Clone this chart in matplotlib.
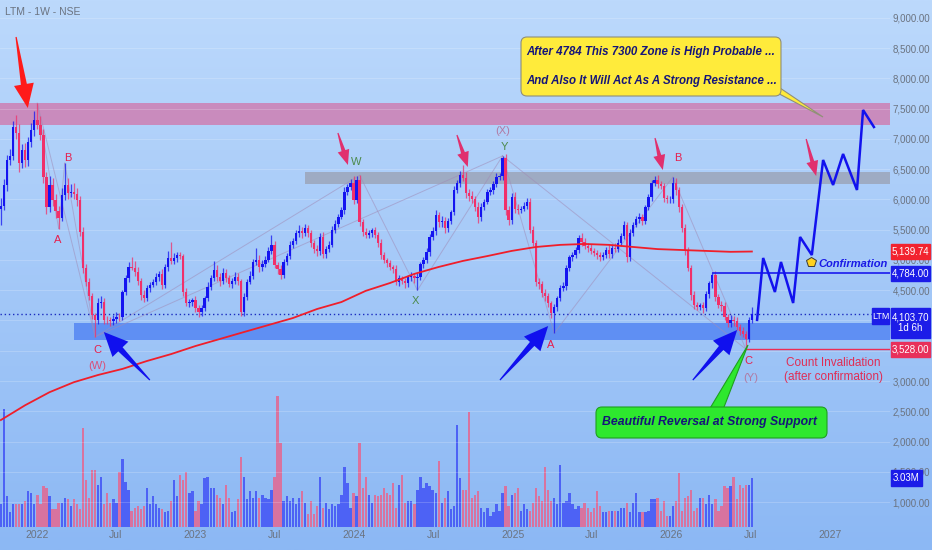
import numpy as np
import pandas as pd
import matplotlib
matplotlib.use("Agg")
import matplotlib.pyplot as plt
import matplotlib.dates as mdates
from matplotlib.colors import LinearSegmentedColormap
from matplotlib.patches import Rectangle, FancyBboxPatch, Polygon
from matplotlib.transforms import IdentityTransform

plt.rcParams['font.family'] = ['Liberation Sans', 'DejaVu Sans']

# ---- weekly LTM candles ----
first_date = '2021-10-10'
first_open = 5850
closes = [
    5900, 6240, 6650, 6720, 7200, 7100, 6600, 6820, 6650, 6950,
    7150, 7310, 7230, 7070, 6370, 5880, 6240, 5990, 5810, 5700,
    6070, 6240, 6100, 6130, 6090, 5990, 5460, 4870, 4640, 4400,
    4090, 4010, 4290, 4300, 4010, 4000, 3990, 4030, 4060, 4050,
    4470, 4700, 4880, 4870, 4800, 4650, 4420, 4370, 4530, 4590,
    4640, 4720, 4770, 4590, 4880, 5030, 4980, 5030, 5080, 5060,
    4470, 4290, 4300, 4340, 4200, 4140, 4200, 4370, 4560, 4700,
    4830, 4720, 4650, 4790, 4700, 4600, 4650, 4720, 4650, 4140,
    4390, 4640, 4740, 4960, 5000, 4880, 4940, 5000, 5150, 5250,
    4920, 4850, 4760, 4960, 5060, 5250, 5320, 5440, 5480, 5440,
    5530, 5440, 5280, 5180, 5150, 5380, 5100, 5180, 5250, 5500,
    5600, 5710, 5820, 6120, 6200, 6280, 5990, 6330, 5630, 5470,
    5420, 5440, 5490, 5420, 5280, 5080, 5000, 4950, 4880, 4850,
    4640, 4700, 4660, 4620, 4720, 4740, 4700, 4720, 4930, 5000,
    5130, 5380, 5480, 5740, 5620, 5650, 5530, 5650, 5790, 6160,
    6270, 6400, 6350, 6100, 6050, 6000, 5880, 5710, 5880, 5960,
    6120, 6150, 6260, 6370, 6390, 6680, 5830, 5660, 6040, 5850,
    5820, 5850, 5900, 5960, 5500, 5280, 4640, 4600, 4450, 4400,
    4290, 4120, 4220, 4370, 4530, 4570, 4870, 5050, 5080, 5170,
    5360, 5300, 5230, 5200, 5150, 5120, 5080, 5050, 5090, 5170,
    5100, 5200, 5180, 5280, 5400, 5580, 5050, 5450, 5580, 5670,
    5710, 5650, 5870, 6040, 6270, 6320, 6250, 6220, 6030, 6000,
    6000, 6270, 6150, 5880, 5530, 5160, 4870, 4420, 4260, 4230,
    4250, 4200, 4440, 4620, 4750, 4390, 4260, 4240, 4060, 3960,
    4000, 3990, 3900, 3830, 3780, 3700, 4010, 4104]
wick_up = [
    120, 100, 80, 120, 90, 200, 150, 100, 120, 80,
    120, 150, 280, 150, 100, 90, 150, 120, 100, 80,
    120, 360, 120, 130, 150, 100, 60, 80, 70, 60,
    50, 40, 80, 100, 70, 60, 50, 60, 80, 60,
    40, 60, 80, 170, 120, 90, 60, 80, 60, 50,
    40, 60, 50, 80, 60, 120, 270, 80, 60, 50,
    40, 60, 50, 40, 60, 50, 60, 40, 80, 60,
    150, 90, 60, 80, 60, 50, 60, 80, 60, 40,
    60, 50, 80, 60, 200, 80, 60, 70, 60, 160,
    60, 50, 60, 50, 60, 60, 50, 60, 100, 70,
    60, 50, 60, 50, 70, 60, 80, 50, 60, 60,
    60, 50, 60, 80, 50, 60, 100, 60, 70, 40,
    60, 50, 40, 50, 40, 60, 50, 40, 50, 40,
    60, 50, 40, 50, 40, 60, 50, 60, 40, 50,
    60, 50, 60, 80, 60, 70, 60, 50, 40, 60,
    60, 70, 170, 100, 80, 90, 60, 80, 60, 50,
    60, 50, 40, 60, 50, 40, 80, 60, 60, 90,
    80, 50, 60, 70, 60, 60, 50, 60, 50, 70,
    50, 40, 60, 40, 50, 60, 50, 40, 60, 50,
    60, 80, 60, 50, 60, 50, 40, 60, 50, 40,
    70, 60, 80, 60, 50, 60, 50, 60, 40, 50,
    60, 50, 40, 50, 60, 60, 80, 50, 60, 50,
    60, 100, 80, 60, 50, 60, 50, 40, 60, 50,
    40, 60, 50, 40, 34, 60, 50, 70, 60, 50,
    90, 70, 60, 50, 60, 40, 50, 116]
wick_dn = [
    270, 80, 100, 80, 60, 100, 150, 80, 120, 100,
    80, 100, 60, 80, 100, 120, 80, 100, 120, 180,
    60, 80, 100, 60, 80, 100, 60, 80, 70, 60,
    60, 280, 60, 80, 70, 60, 80, 60, 70, 60,
    40, 50, 60, 40, 60, 60, 80, 70, 50, 60,
    40, 50, 60, 70, 50, 60, 50, 40, 60, 50,
    60, 50, 70, 60, 60, 90, 60, 50, 40, 60,
    40, 60, 80, 50, 60, 50, 60, 40, 60, 70,
    60, 50, 40, 60, 50, 80, 60, 50, 40, 50,
    60, 80, 70, 60, 50, 40, 60, 50, 60, 70,
    50, 60, 70, 60, 80, 60, 70, 60, 50, 40,
    60, 50, 40, 60, 50, 40, 70, 50, 60, 80,
    60, 50, 60, 50, 70, 60, 50, 60, 50, 70,
    60, 70, 60, 80, 60, 70, 80, 200, 50, 60,
    50, 60, 50, 60, 70, 80, 90, 60, 50, 40,
    50, 60, 50, 70, 80, 60, 70, 100, 60, 50,
    40, 50, 60, 50, 40, 60, 90, 80, 60, 70,
    60, 50, 40, 60, 60, 50, 70, 80, 60, 70,
    60, 80, 330, 60, 50, 40, 60, 50, 60, 50,
    60, 70, 50, 60, 50, 60, 70, 60, 50, 60,
    70, 60, 50, 40, 50, 60, 80, 60, 50, 40,
    60, 70, 50, 40, 60, 50, 60, 50, 70, 60,
    50, 60, 70, 80, 60, 70, 60, 80, 70, 60,
    60, 70, 50, 60, 80, 70, 60, 80, 60, 70,
    60, 80, 60, 70, 60, 172, 60, 50]
volume_m = [
    1.4, 7.3, 1.9, 0.9, 1.4, 1.4, 1.4, 1.4, 1.6, 2.2,
    2.1, 1.4, 2.0, 1.4, 2.5, 2.4, 1.9, 1.1, 1.1, 1.5,
    1.5, 1.8, 1.7, 1.3, 1.7, 1.4, 1.1, 6.1, 2.9, 1.8,
    3.5, 3.5, 2.6, 3.1, 1.4, 2.1, 1.5, 1.7, 1.5, 3.4,
    4.2, 2.8, 2.3, 1.0, 1.2, 1.3, 1.1, 1.3, 2.4, 1.4,
    1.9, 1.4, 1.2, 1.1, 0.9, 1.0, 1.6, 2.9, 1.9, 3.2,
    2.9, 3.4, 2.1, 2.2, 1.0, 1.6, 1.4, 3.0, 3.1, 2.4,
    2.4, 2.0, 1.8, 1.4, 2.6, 1.8, 0.9, 1.0, 1.7, 4.3,
    3.1, 1.7, 2.2, 1.8, 2.2, 1.8, 2.0, 1.8, 1.7, 2.3,
    3.1, 8.1, 5.2, 1.6, 1.9, 1.6, 1.8, 1.4, 1.8, 2.2,
    1.5, 0.8, 1.6, 0.8, 1.3, 3.1, 1.2, 1.5, 1.1, 1.4,
    1.3, 1.4, 2.0, 3.7, 2.7, 1.2, 2.1, 1.9, 5.2, 2.4,
    3.1, 2.0, 1.5, 2.0, 1.9, 2.0, 2.4, 2.1, 2.0, 2.7,
    1.2, 2.6, 3.2, 1.5, 1.6, 1.6, 1.4, 2.3, 3.1, 2.4,
    2.7, 2.5, 2.3, 2.1, 4.1, 1.5, 1.8, 2.2, 1.1, 1.3,
    6.3, 3.0, 2.3, 2.3, 7.1, 1.8, 2.0, 2.2, 1.2, 0.9,
    1.2, 0.7, 0.9, 1.4, 1.0, 2.1, 2.5, 1.3, 2.0, 2.1,
    2.4, 1.0, 1.4, 1.1, 1.0, 1.5, 2.4, 1.9, 1.6, 3.7,
    2.3, 1.6, 1.8, 1.4, 3.8, 1.5, 1.6, 2.1, 1.4, 1.1,
    1.3, 1.2, 1.5, 1.2, 0.9, 1.2, 2.2, 1.3, 0.9, 0.9,
    1.0, 1.0, 1.0, 1.0, 1.2, 1.2, 1.5, 0.9, 1.5, 2.1,
    0.9, 0.9, 0.9, 1.0, 1.7, 1.7, 1.8, 1.0, 1.6, 0.7,
    0.7, 1.3, 1.6, 3.3, 1.0, 1.8, 1.9, 2.3, 1.0, 1.2,
    1.8, 1.8, 1.4, 2.0, 1.4, 1.7, 1.0, 1.3, 2.5, 2.4,
    2.5, 3.1, 1.7, 2.6, 2.4, 2.6, 2.6, 3.03]

# 200 MA, read every 8th candle
ma_idx = list(range(0, 241, 8)) + [247]
ma_vals = [2355, 2600, 2815, 2980, 3100, 3200, 3330, 3445, 3578, 3694,
           3810, 3925, 4040, 4190, 4305, 4490, 4620, 4770, 4885, 4985,
           5065, 5150, 5215, 5250, 5265, 5250, 5215, 5180, 5165, 5150,
           5135, 5140]

# projected path (drawn by hand on the chart)
proj_dates = ['2026-07-17', '2026-07-31', '2026-08-27', '2026-09-10', '2026-10-08',
              '2026-10-24', '2026-11-20', '2026-12-16', '2027-01-08', '2027-01-31',
              '2027-03-04', '2027-03-18', '2027-04-12']
proj_prices = [4010, 5033, 4471, 4967, 4289, 5380, 5082, 6653, 6240, 6752,
               6157, 7479, 7198]

resist_zone = (7230, 7600)
mid_zone = (6256, 6455)
support_zone = (3677, 3958)
last_price = 4103.70
confirm_level = 4784
invalid_level = 3528
ma_last = 5139.74
last_vol = 3.03

price_ticks = list(range(1000, 9001, 500))
hidden_ticks = [3500, 4000]   # covered by the price tags on the chart
time_ticks = ['2022-01-01', '2022-07-01', '2023-01-01', '2023-07-01', '2024-01-01',
              '2024-07-01', '2025-01-01', '2025-07-01', '2026-01-01', '2026-07-01',
              '2027-01-01']
time_labels = ['2022', 'Jul', '2023', 'Jul', '2024', 'Jul', '2025', 'Jul', '2026',
               'Jul', '2027']

# wave pivots: candle index and which extreme
pivots = {'P': (12, 'h'), 'A1': (19, 'l'), 'B1': (21, 'h'), 'C1': (31, 'l'),
          'W': (118, 'h'), 'X': (137, 'l'), 'Y': (165, 'h'),
          'A2': (182, 'l'), 'B2': (221, 'h'), 'C2': (245, 'l')}
legs = [('P', 'A1'), ('A1', 'B1'), ('B1', 'C1'), ('P', 'C1'), ('C1', 'W'), ('W', 'X'),
        ('X', 'Y'), ('C1', 'Y'), ('Y', 'A2'), ('A2', 'B2'), ('B2', 'C2'), ('Y', 'C2')]


def num(s):
    return mdates.date2num(pd.Timestamp(s))


dates = pd.date_range(first_date, periods=len(closes), freq='7D')
x = mdates.date2num(dates)
c = np.array(closes, float)
o = np.r_[first_open, c[:-1]]
hi = np.maximum(o, c) + np.array(wick_up)
lo = np.minimum(o, c) - np.array(wick_dn)
up = c >= o

UP, DN = '#1414f0', '#f0306a'
W, H = 932, 550
fig = plt.figure(figsize=(W / 100, H / 100), dpi=100)

bg = fig.add_axes([0, 0, 1, 1], zorder=0)
grad = np.linspace(0, 1, 256).reshape(-1, 1)
bg.imshow(grad, aspect='auto', extent=[0, 1, 0, 1],
          cmap=LinearSegmentedColormap.from_list('bg', ['#bcd9fc', '#8cb8f4']))
bg.axis('off')

rect = [0, 23 / H, 890 / W, 527 / H]
ax = fig.add_axes(rect, zorder=2)
vax = fig.add_axes(rect, zorder=1, sharex=ax)
for a in (ax, vax):
    a.patch.set_visible(False)
    for s in a.spines.values():
        s.set_visible(False)

x0, x1 = num('2021-10-08'), num('2027-05-19')
ax.set_xlim(x0, x1)
ax.set_ylim(587, 9297)
vax.set_ylim(0, 32.5)
vax.set_yticks([])
vax.tick_params(axis='x', bottom=False, labelbottom=False)

ax.set_xticks([num(t) for t in time_ticks])
ax.set_xticklabels(time_labels)
ax.tick_params(axis='x', length=0, pad=2, labelsize=7.5, labelcolor='#6b7380')
ax.yaxis.tick_right()
ax.set_yticks(price_ticks)
ax.set_yticklabels(['' if v in hidden_ticks else f'{v:,.2f}' for v in price_ticks])
ax.tick_params(axis='y', length=0, pad=29, labelsize=7, labelcolor='#6b7380')
for lab in ax.get_yticklabels():
    lab.set_ha('right')
ax.grid(axis='y', color='white', alpha=0.22, lw=0.6)

# zones
ax.add_patch(Rectangle((x0, resist_zone[0]), x1 - x0, resist_zone[1] - resist_zone[0],
                       color='#c98bbd', lw=0, zorder=1))
ax.add_patch(Rectangle((num('2023-09-10'), mid_zone[0]), x1 - num('2023-09-10'),
                       mid_zone[1] - mid_zone[0], color='#9eabc3', lw=0, zorder=1))
ax.add_patch(Rectangle((num('2022-03-27'), support_zone[0]), x1 - num('2022-03-27'),
                       support_zone[1] - support_zone[0], color='#5f8ff3', lw=0, zorder=1))

# volume
vax.bar(x, volume_m, width=5.3, color=np.where(up, '#4d62f5', '#d8739f'), linewidth=0)

# wave structure lines
for a, b in legs:
    ia, ka = pivots[a]
    ib, kb = pivots[b]
    ya = hi[ia] if ka == 'h' else lo[ia]
    yb = hi[ib] if kb == 'h' else lo[ib]
    ax.plot([x[ia], x[ib]], [ya, yb], color='#a08cb8', lw=0.7, alpha=0.55, zorder=2)

# candles
cols = np.where(up, UP, DN)
ax.vlines(x, lo, hi, colors=cols, lw=0.9, alpha=0.75, zorder=3)
ax.bar(x, np.maximum(np.abs(c - o), 15), bottom=np.minimum(o, c), width=5.3,
       color=cols, linewidth=0, zorder=4)

ax.plot(x[ma_idx], ma_vals, color='#f01e2a', lw=1.3, zorder=5)

ax.axhline(last_price, color='#1b2bbf', lw=1, ls=(0, (1, 2)), zorder=2)
ax.hlines(confirm_level, x[234], x1, color='#1a1aee', lw=1.2, zorder=5)
ax.hlines(invalid_level, x[245], x1, color='#ee2d55', lw=1, zorder=5)

ax.plot([num(d) for d in proj_dates], proj_prices, color='#1212ee', lw=1.8,
        solid_joinstyle='miter', zorder=6)


# wave labels
def lab(d, p, s, col, size=8):
    ax.text(num(d), p, s, color=col, fontsize=size, ha='center', va='center', zorder=6)


RED, GRN = '#e61e4d', '#4c8a4c'
lab('2022-03-13', 6686, 'B', RED)
lab('2022-02-18', 5330, 'A', RED)
lab('2022-05-21', 3512, 'C', RED)
lab('2022-05-21', 3248, '(W)', '#d8507a')
lab('2024-01-07', 6620, 'W', GRN)
lab('2024-05-22', 4322, 'X', GRN)
lab('2024-12-09', 7132, '(X)', '#b07aa4')
lab('2024-12-13', 6868, 'Y', GRN)
lab('2025-03-29', 3595, 'A', RED)
lab('2026-01-16', 6686, 'B', RED)
lab('2026-06-28', 3330, 'C', RED)
lab('2026-07-03', 3049, '(Y)', '#b07aa4')

ax.text(num('2027-01-08'), 3182, 'Count Invalidation\n(after confirmation)',
        color='#e02d55', fontsize=8.5, ha='center', va='center', linespacing=1.15, zorder=6)
ax.plot(num('2026-11-18'), 4967, marker='p', ms=7, color='#ffd21f', mec='#3a3a3a',
        mew=0.7, zorder=7)
ax.text(num('2026-12-06'), 4934, 'Confirmation', color='#1a1ae6', fontsize=8,
        fontweight='bold', fontstyle='italic', ha='left', va='center', zorder=7)


# arrows drawn as tapered polygons in pixel space
def arrow(tail, tip, color, head_len, head_w, shaft_w):
    p0 = ax.transData.transform((num(tail[0]), tail[1]))
    p1 = ax.transData.transform((num(tip[0]), tip[1]))
    u = (p1 - p0) / np.hypot(*(p1 - p0))
    n = np.array([-u[1], u[0]])
    b = p1 - u * head_len
    pts = [p0 + n * 0.6, b + n * shaft_w / 2, b + n * head_w / 2, p1,
           b - n * head_w / 2, b - n * shaft_w / 2, p0 - n * 0.6]
    fig.add_artist(Polygon(pts, closed=True, transform=IdentityTransform(),
                           facecolor=color, edgecolor='none', zorder=7))


arrow(('2021-11-14', 8686), ('2021-12-11', 7512), '#ff1a1a', 24, 20, 6)
for tl, tp in [(('2023-11-25', 7099), ('2023-12-18', 6570)),
               (('2024-08-25', 7066), ('2024-09-19', 6537)),
               (('2025-11-24', 7016), ('2025-12-12', 6487)),
               (('2026-11-07', 7000), ('2026-11-30', 6388))]:
    arrow(tl, tp, '#e0306e', 15, 12, 4)
for tl, tp in [(('2022-09-18', 3016), ('2022-06-04', 3810)),
               (('2024-12-02', 3016), ('2025-03-23', 3909)),
               (('2026-02-19', 3016), ('2026-06-01', 3843))]:
    arrow(tl, tp, '#1010ee', 24, 22, 6)

# callouts (pixel space)
I = IdentityTransform()
fig.add_artist(Polygon([(768, 462), (780, 462), (823, 433)], transform=I,
                       fc='#ffeb3b', ec='#8f8f7a', lw=0.8, zorder=7.9))
fig.add_artist(FancyBboxPatch((521, 454), 260, 59, boxstyle='round,pad=0,rounding_size=6',
                              transform=I, fc='#ffeb3b', ec='#8f8f7a', lw=0.8, zorder=8))
for yy, s in [(498, 'After 4784 This 7300 Zone is High Probable ...'),
              (469, 'And Also It Will Act As A Strong Resistance ...')]:
    fig.text(526, yy, s, transform=I, color='#15157a', fontsize=8.3, fontweight='bold',
             fontstyle='italic', va='center', ha='left', zorder=9)

fig.add_artist(Polygon([(703, 130), (719, 130), (748, 205)], transform=I,
                       fc='#2ee82e', ec='#1f9f1f', lw=0.8, zorder=7.9))
fig.add_artist(FancyBboxPatch((596, 112), 231, 31, boxstyle='round,pad=0,rounding_size=6',
                              transform=I, fc='#2ee82e', ec='#1f9f1f', lw=0.8, zorder=8))
fig.text(602, 128, 'Beautiful Reversal at Strong Support', transform=I, color='#15157a',
         fontsize=8.8, fontweight='bold', fontstyle='italic', va='center', ha='left', zorder=9)


# price scale tags
def tag(a, val, text, color, x_left=891, w=39, h=15, dy=0):
    py = a.transData.transform((0, val))[1]
    fig.add_artist(Rectangle((x_left, py - h / 2 + dy), w, h, transform=I,
                             color=color, zorder=8))
    fig.text(x_left + w / 2, py + dy, text, transform=I, color='white', fontsize=7,
             ha='center', va='center', zorder=9)


tag(ax, ma_last, f'{ma_last:,.2f}', '#f2232f')
tag(ax, confirm_level, f'{confirm_level:,.2f}', '#1c1ce8')
tag(ax, invalid_level, f'{invalid_level:,.2f}', '#e8305a')
tag(vax, last_vol, f'{last_vol:.2f}M', '#1c1ce8', w=31, h=16)

py = ax.transData.transform((0, last_price))[1]
fig.add_artist(Rectangle((891, py - 24), 39, 30, transform=I, color='#1c1ce8', zorder=8))
fig.text(910.5, py - 3, f'{last_price:,.2f}', transform=I, color='white', fontsize=7,
         ha='center', va='center', zorder=9)
fig.text(910.5, py - 14, '1d 6h', transform=I, color='white', fontsize=7,
         ha='center', va='center', zorder=9)
fig.add_artist(Rectangle((872, py - 10), 17, 16, transform=I, color='#1c1ce8', zorder=8))
fig.text(880.5, py - 2, 'LTM', transform=I, color='white', fontsize=6.5,
         ha='center', va='center', zorder=9)

fig.text(5 / W, 1 - 12 / H, 'LTM - 1W - NSE', color='#6b7380', fontsize=7.5, va='center')

fig.savefig('out.png', dpi=100)
